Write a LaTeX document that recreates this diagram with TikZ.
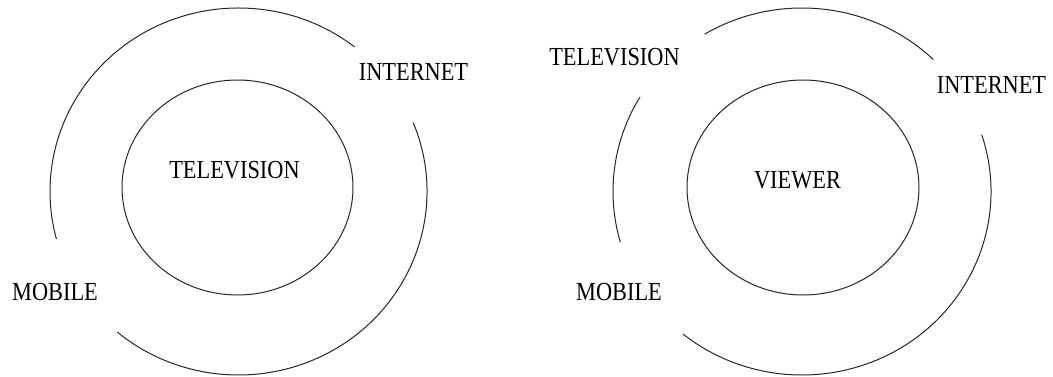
\documentclass[tikz,border=0pt]{standalone}
\usepackage{fontspec}
\setmainfont{Liberation Serif}
\newcommand\narrowlab[1]{\scalebox{0.86}[1]{#1}}
\tikzset{
  ring/.style={line width=1pt, black!85},
  lbl/.style={inner sep=0pt, font=\fontsize{26}{28}\selectfont}
}
\begin{document}
\begin{tikzpicture}[x=1pt,y=1pt]
\useasboundingbox (0,0) rectangle (1053,376);
% left diagram
\coordinate (Lc) at (237.5,188.5);
\coordinate (Lo) at (238.5,184.5);
\draw[ring] (Lc) ellipse [x radius=115.5, y radius=107.5];
\draw[ring] (Lo) ++(52:188.5 and 183.5) arc [start angle=52, end angle=195, x radius=188.5, y radius=183.5];
\draw[ring] (Lo) ++(22:188.5 and 183.5) arc [start angle=22, end angle=-130, x radius=188.5, y radius=183.5];
\node[lbl] (ltv) at (234.5,206) {\narrowlab{TELEVISION}};
\node[lbl] (lnet) at (413.5,304) {\narrowlab{INTERNET}};
\node[lbl] (lmob) at (55,84) {\narrowlab{MOBILE}};
% right diagram
\coordinate (Rc) at (803,188.5);
\coordinate (Ro) at (802,184.5);
\draw[ring] (Rc) ellipse [x radius=116, y radius=107.5];
\draw[ring] (Ro) ++(46:189 and 183.5) arc [start angle=46, end angle=121, x radius=189, y radius=183.5];
\draw[ring] (Ro) ++(149:189 and 183.5) arc [start angle=149, end angle=196, x radius=189, y radius=183.5];
\draw[ring] (Ro) ++(18:189 and 183.5) arc [start angle=18, end angle=-129, x radius=189, y radius=183.5];
\node[lbl] (rview) at (797.5,196) {\narrowlab{VIEWER}};
\node[lbl] (rtv) at (614.5,319) {\narrowlab{TELEVISION}};
\node[lbl] (rnet) at (991.5,291) {\narrowlab{INTERNET}};
\node[lbl] (rmob) at (619,84) {\narrowlab{MOBILE}};
\end{tikzpicture}
\end{document}
